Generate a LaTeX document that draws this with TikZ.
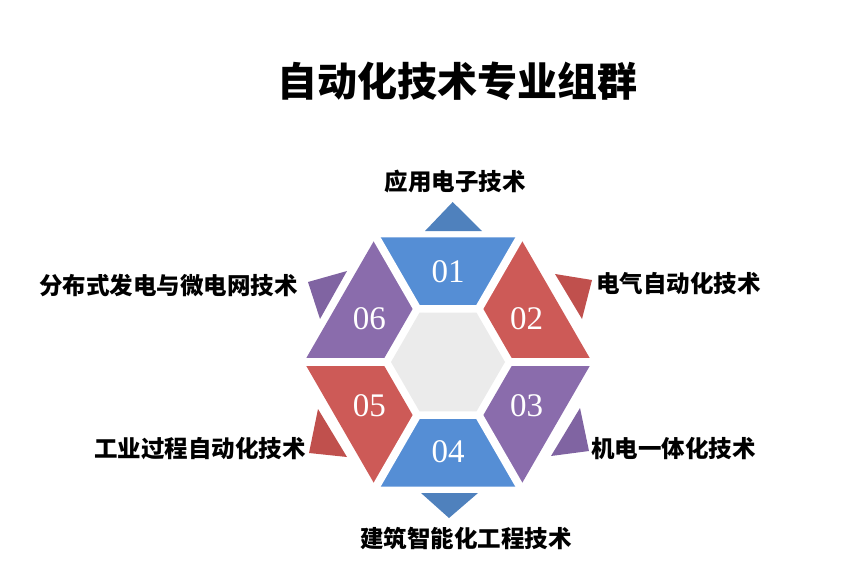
\documentclass[tikz,border=0pt]{standalone}
\usepackage{fontspec}
\setmainfont{Liberation Serif}
\newfontfamily\cjk{Noto Sans CJK SC}
\definecolor{segblue}{HTML}{558ED5}
\definecolor{segred}{HTML}{CD5A57}
\definecolor{segpurple}{HTML}{8A6CAC}
\definecolor{tipblue}{HTML}{4F81BD}
\definecolor{tipred}{HTML}{C0504D}
\definecolor{tippurple}{HTML}{8064A2}
\definecolor{hubgrey}{HTML}{EBEBEB}
\tikzset{
  gapline/.style={white,line width=8pt},
  segnum/.style={text=white,inner sep=0pt,font=\fontsize{33}{36}\selectfont},
  majorlabel/.style={inner sep=0pt,font=\cjk\bfseries\fontsize{23.5}{28}\selectfont},
}
\begin{document}
\begin{tikzpicture}[x=1pt,y=-1pt]
  \useasboundingbox (0,0) rectangle (858,581);
  \node[inner sep=0pt,font=\cjk\bfseries\fontsize{40}{46}\selectfont] (title) at (457,81) {自动化技术专业组群};
  \begin{scope}[shift={(448,362)}]
    \foreach \a/\c/\n in {240/segblue/01,300/segred/02,0/segpurple/03,60/segblue/04,120/segred/05,180/segpurple/06}{
      \fill[\c] (\a:66) -- (\a:144) -- (\a+60:144) -- (\a+60:66) -- cycle;
    }
    \foreach \a in {0,60,...,300}
      \draw[gapline] (0,0) -- (\a:165);
    \fill[hubgrey] (0:57) -- (60:57) -- (120:57) -- (180:57) -- (240:57) -- (300:57) -- cycle;
    \foreach \a/\n in {270/01,331/02,29/03,90/04,151/05,209/06}
      \node[segnum] (num\n) at (\a:90) {\n};
  \end{scope}
  % outward tips
  \fill[tipblue] (452.7,202) -- (482,231) -- (425,231) -- cycle;
  \fill[tipred] (555,274) -- (592,280) -- (582,319) -- cycle;
  \fill[tippurple] (580,408) -- (589,451) -- (551,456) -- cycle;
  \fill[tipblue] (449,518) -- (478,493) -- (421,493) -- cycle;
  \fill[tipred] (318,409) -- (309,453) -- (347,457) -- cycle;
  \fill[tippurple] (308,282) -- (347,271) -- (320,319) -- cycle;
  % labels
  \node[majorlabel] (lab01) at (455,182) {应用电子技术};
  \node[majorlabel,anchor=west] (lab02) at (596,284) {电气自动化技术};
  \node[majorlabel,anchor=west] (lab03) at (591,449) {机电一体化技术};
  \node[majorlabel] (lab04) at (466,538) {建筑智能化工程技术};
  \node[majorlabel,anchor=east] (lab05) at (306,449) {工业过程自动化技术};
  \node[majorlabel,anchor=east] (lab06) at (298,286) {分布式发电与微电网技术};
\end{tikzpicture}
\end{document}
